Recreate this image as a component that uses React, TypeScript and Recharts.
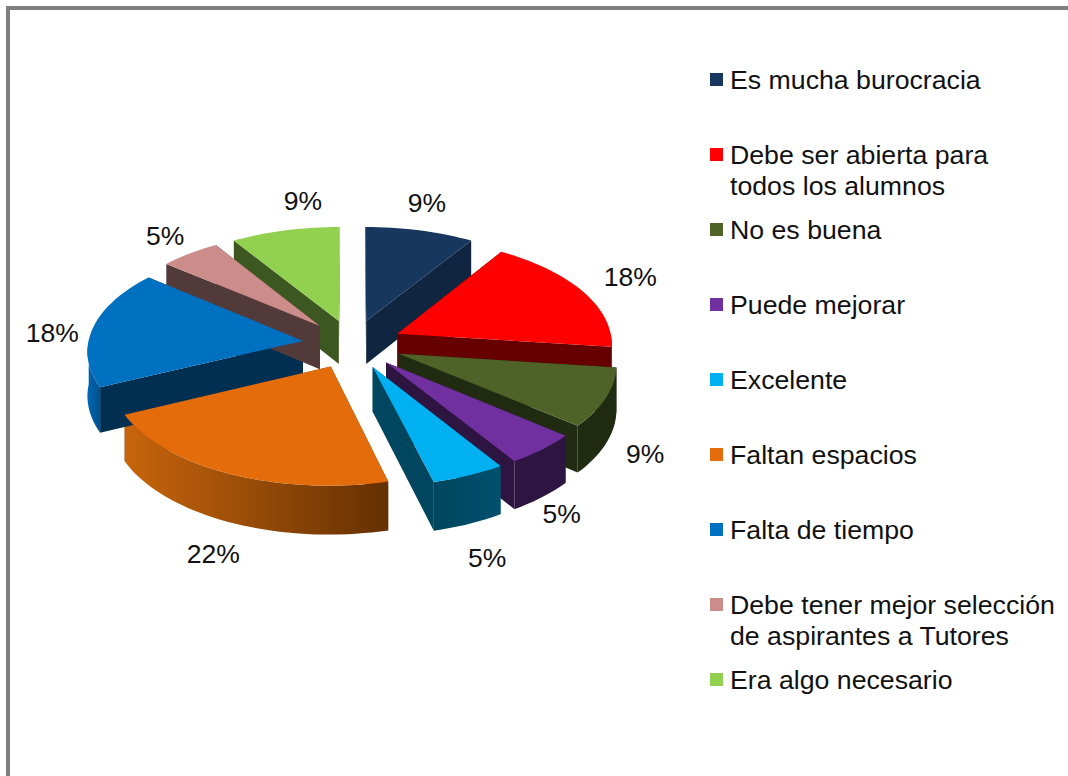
import { PieChart, Pie, Legend } from 'recharts'

const categories = [
  'Es mucha burocracia',
  'Debe ser abierta para\ntodos los alumnos',
  'No es buena',
  'Puede mejorar',
  'Excelente',
  'Faltan espacios',
  'Falta de tiempo',
  'Debe tener mejor selección\nde aspirantes a Tutores',
  'Era algo necesario',
]
const values = [9, 18, 9, 5, 5, 22, 18, 5, 9]
const topColors = ['#17375E', '#FF0000', '#4F6228', '#7030A0', '#00B0F0', '#E46C0A', '#0070C0', '#CC8C8A', '#92D050']
const faceColors = ['#102640', '#660000', '#212B12', '#2E1440', '#00465F', '#6B3303', '#002F52', '#533A3A', '#3D5720']
const rimFrom = ['#102640', '#660000', '#212B12', '#2E1440', '#00465F', '#C8650C', '#0068B4', '#533A3A', '#3D5720']
const rimTo = ['#102640', '#660000', '#212B12', '#2E1440', '#00506E', '#643003', '#00508C', '#533A3A', '#3D5720']
// the reference places its labels by hand, so each one gets a small nudge
const labelNudgeX = [-2, 15, -1, -12, -1, 6, -2, -2, 27]
const labelNudgeY = [-12, -6, -2, -3, 10, 9, 7, -5, -14]

const data = categories.map((name, i) => ({ name, value: values[i], fill: topColors[i], idx: i }))

// fake 3D: pie plane tilted towards the viewer with a bit of perspective
const CX = 352.5
const CY = 344
const RADIUS = 215
const EXPLODE = 50
const TILT = 0.49
const PERSPECTIVE = 2600
const DEPTH = 44
const RAD = Math.PI / 180

const project = (r: number, deg: number, mid: number) => {
  const u = EXPLODE * Math.cos(mid * RAD) + r * Math.cos(deg * RAD)
  const v = -(EXPLODE * Math.sin(mid * RAD) + r * Math.sin(deg * RAD))
  const s = PERSPECTIVE / (PERSPECTIVE - v)
  return { x: CX + s * u, y: CY + s * TILT * v, s }
}

const toPath = (pts: { x: number; y: number }[]) =>
  pts.map((p, i) => `${i ? 'L' : 'M'}${p.x.toFixed(1)} ${p.y.toFixed(1)}`).join(' ') + ' Z'

const arcAngles = (start: number, end: number) => {
  const out: number[] = []
  const n = Math.ceil(Math.abs(end - start) / 2)
  for (let i = 0; i <= n; i++) out.push(start + ((end - start) * i) / n)
  return out
}

const lower = (p: { x: number; y: number; s: number }) => ({ x: p.x, y: p.y + DEPTH * p.s, s: p.s })

const midOf = (props: any) => (props.startAngle + props.endAngle) / 2

const isBack = (props: any) => Math.sin(midOf(props) * RAD) > 0.8

const Walls = (props: any) => {
  const { startAngle, endAngle, outerRadius, idx } = props
  const mid = midOf(props)
  const tip = project(0, mid, mid)
  const a = project(outerRadius, startAngle, mid)
  const b = project(outerRadius, endAngle, mid)
  const front = arcAngles(startAngle, endAngle).filter((d) => Math.sin(d * RAD) < 0.02)
  const top = front.map((d) => project(outerRadius, d, mid))
  const bottom = top.map(lower).reverse()
  const gid = `rim-${idx}`
  return (
    <g>
      <defs>
        <linearGradient id={gid} x1="0" y1="0" x2="1" y2="0">
          <stop offset="0%" stopColor={rimFrom[idx]} />
          <stop offset="100%" stopColor={rimTo[idx]} />
        </linearGradient>
      </defs>
      <path d={toPath([tip, a, lower(a), lower(tip)])} fill={faceColors[idx]} />
      <path d={toPath([tip, b, lower(b), lower(tip)])} fill={faceColors[idx]} />
      {top.length > 1 && <path d={toPath([...top, ...bottom])} fill={`url(#${gid})`} />}
    </g>
  )
}

const BackWalls = (props: any) => (isBack(props) ? <Walls {...props} /> : <g />)
const FrontWalls = (props: any) => (isBack(props) ? <g /> : <Walls {...props} />)

const TopFace = (props: any) => {
  const { startAngle, endAngle, outerRadius, fill } = props
  const mid = midOf(props)
  const tip = project(0, mid, mid)
  const arc = arcAngles(startAngle, endAngle).map((d) => project(outerRadius, d, mid))
  return <path d={toPath([tip, ...arc])} fill={fill} />
}

const PercentLabel = (props: any) => {
  const { midAngle, value, index } = props
  const p = project(305, midAngle, 0)
  const x = p.x - EXPLODE * p.s
  const dropped = Math.sin(midAngle * RAD) < 0 ? 1 : 0
  return (
    <text
      x={x + labelNudgeX[index]}
      y={p.y + dropped * 50 + labelNudgeY[index]}
      textAnchor="middle"
      dominantBaseline="central"
      fill="#111"
      fontSize={26.5}
      fontFamily="Liberation Sans"
    >
      {value}%
    </text>
  )
}

const LegendList = () => (
  <div style={{ fontFamily: 'Liberation Sans', fontSize: 26.7, lineHeight: '30.5px', color: '#111' }}>
    {categories.map((name, i) => (
      <div key={name} style={{ height: 75.05, display: 'flex' }}>
        <span
          style={{ width: 13, height: 13, marginTop: 8, marginRight: 7, flex: 'none', background: topColors[i] }}
        />
        <span style={{ whiteSpace: 'pre-line' }}>{name}</span>
      </div>
    ))}
  </div>
)

const pieProps = {
  data,
  dataKey: 'value',
  nameKey: 'name',
  cx: CX,
  cy: CY,
  outerRadius: RADIUS,
  startAngle: 90,
  endAngle: -270,
  stroke: 'none',
  isAnimationActive: false,
}

export default function App() {
  return (
    <div style={{ position: 'absolute', left: 0, top: 0, width: 1068, height: 776, background: '#fff', overflow: 'hidden' }}>
      <div
        style={{
          position: 'absolute',
          left: 6,
          top: 6,
          right: 0,
          bottom: 0,
          borderTop: '4px solid #7f7f7f',
          borderLeft: '4px solid #7f7f7f',
        }}
      />
      <PieChart width={1068} height={776} style={{ position: 'absolute', left: 0, top: 0 }}>
        <Pie {...pieProps} legendType="none" shape={BackWalls} />
        <Pie {...pieProps} legendType="none" shape={FrontWalls} />
        <Pie {...pieProps} shape={TopFace} label={PercentLabel} labelLine={false} />
        <Legend
          layout="vertical"
          align="right"
          verticalAlign="top"
          content={LegendList}
          wrapperStyle={{ position: 'absolute', left: 710, top: 65, width: 350 }}
        />
      </PieChart>
    </div>
  )
}
